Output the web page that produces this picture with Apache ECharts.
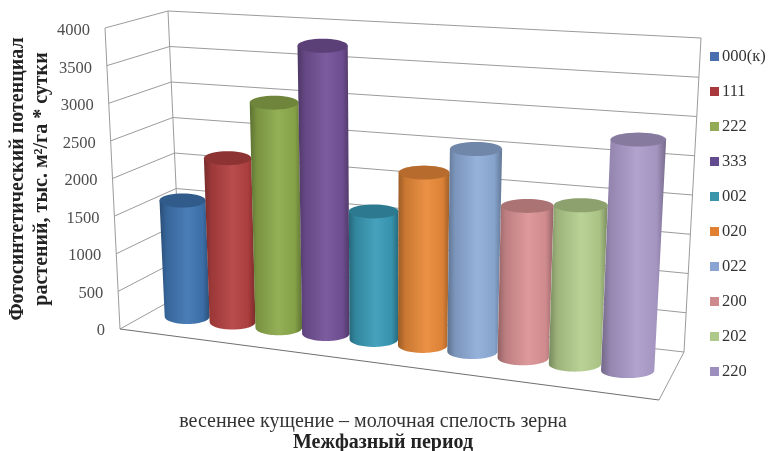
<!DOCTYPE html>
<html>
<head>
<meta charset="utf-8">
<style>html,body{margin:0;padding:0;background:#fff}#chart{width:772px;height:451px}</style>
<script src="https://cdn.jsdelivr.net/npm/echarts@6/dist/echarts.min.js"></script>
</head>
<body>
<div id="chart"></div>
<script>
// Chart data
var categories = ['весеннее кущение – молочная спелость зерна'];
var seriesNames = ['000(к)', '111', '222', '333', '002', '020', '022', '200', '202', '220'];
var seriesValues = [1575, 2205, 3000, 3800, 1675, 2240, 2600, 1930, 2000, 2880];
var seriesColors = ['#3f75b2', '#b54141', '#8dab4c', '#745298', '#3a9cb8', '#ea8a3a', '#8fadd9', '#dc9396', '#b5cf8e', '#ac9ccb'];
var legendColors = ['#4a6fae', '#a9383c', '#93ab55', '#634b8f', '#3a95ab', '#e08030', '#8ba5d2', '#cd8b8e', '#aec98a', '#9d8fbd'];
var yTicks = [0, 500, 1000, 1500, 2000, 2500, 3000, 3500, 4000];
var yMax = 4000;

// Corners of the 3D box on screen: floor and ceiling planes
var floorQuad = { fl: [120, 329], fr: [659, 400], bl: [181, 295], br: [684, 352] };
var ceilQuad = { fl: [105, 28], fr: [677, 67], bl: [168, 11], br: [701, 38] };
var PERSPECTIVE = 0.905;
var SIDE_MARGIN = 0.03;
var CENTER_DEPTH = 0.5;

function mix(a, b, k) { return [a[0] + (b[0] - a[0]) * k, a[1] + (b[1] - a[1]) * k]; }
function onPlane(q, s, t) { return mix(mix(q.fl, q.fr, s), mix(q.bl, q.br, s), t); }

// s: share along the front edge, t: depth, h: share of the axis height
function project(s, t, h) {
  var w = s * PERSPECTIVE / (1 + (PERSPECTIVE - 1) * s);
  return mix(onPlane(floorQuad, w, t), onPlane(ceilQuad, w, t), h);
}

function shade(hex, k) {
  var n = parseInt(hex.slice(1), 16);
  var c = [n >> 16, (n >> 8) & 255, n & 255].map(function (v) {
    return Math.round(k <= 1 ? v * k : v + (255 - v) * (k - 1));
  });
  return 'rgb(' + c.join(',') + ')';
}

function ellipsePoints(cx, cy, rx, ry, from, to) {
  var pts = [];
  for (var i = 0; i <= 40; i++) {
    var a = from + (to - from) * i / 40;
    pts.push([cx + rx * Math.cos(a), cy + ry * Math.sin(a)]);
  }
  return pts;
}

// Walls of the box: one side and one back gridline per tick, edges on the zero tick
function renderFrame(params, api) {
  var rect = params.coordSys;
  var h = (rect.y + rect.height - api.coord([0, api.value(1)])[1]) / rect.height;
  var line = { stroke: '#9b9b9b', lineWidth: 1, fill: null };
  var children = [{
    type: 'polyline',
    shape: { points: [project(0, 0, h), project(0, 1, h), project(1, 1, h)] },
    style: line
  }];
  if (api.value(1) === 0) {
    [[project(0, 0, 0), project(0, 0, 1)],
     [project(0, 1, 0), project(0, 1, 1)],
     [project(1, 1, 0), project(1, 1, 1)],
     [project(1, 1, 0), project(1, 0, 0)]].forEach(function (p) {
      children.push({ type: 'polyline', shape: { points: p }, style: line });
    });
    children.push({
      type: 'polyline',
      shape: { points: [project(0, 0, 0), project(1, 0, 0)] },
      style: { stroke: '#6f6f6f', lineWidth: 1, fill: null }
    });
  }
  return { type: 'group', children: children };
}

// Cylinder for one series inside the single category band
function cylinderRenderer(index, color) {
  return function (params, api) {
    var rect = params.coordSys;
    var top = api.coord([api.value(0), api.value(1)]);
    var band = api.size([1, 0])[0] / seriesNames.length;
    var gx = top[0] + (index - (seriesNames.length - 1) / 2) * band;
    var toS = function (x) { return SIDE_MARGIN + (1 - 2 * SIDE_MARGIN) * (x - rect.x) / rect.width; };
    var h = (rect.y + rect.height - top[1]) / rect.height;
    var sL = toS(gx - band / 2), sR = toS(gx + band / 2);
    var bL = project(sL, CENTER_DEPTH, 0), bR = project(sR, CENTER_DEPTH, 0);
    var tL = project(sL, CENTER_DEPTH, h), tR = project(sR, CENTER_DEPTH, h);
    var bcx = (bL[0] + bR[0]) / 2, bcy = (bL[1] + bR[1]) / 2, brx = (bR[0] - bL[0]) / 2;
    var tcx = (tL[0] + tR[0]) / 2, tcy = (tL[1] + tR[1]) / 2, trx = (tR[0] - tL[0]) / 2;
    var body = [[tcx - trx, tcy]]
      .concat([[tcx + trx, tcy]])
      .concat(ellipsePoints(bcx, bcy, brx, 7.5, 0, Math.PI));
    var grad = {
      type: 'linear', x: 0, y: 0, x2: 1, y2: 0,
      colorStops: [
        { offset: 0, color: shade(color, 0.66) },
        { offset: 0.14, color: shade(color, 0.86) },
        { offset: 0.55, color: shade(color, 1.06) },
        { offset: 0.86, color: shade(color, 0.94) },
        { offset: 1, color: shade(color, 0.68) }
      ]
    };
    return {
      type: 'group',
      children: [
        { type: 'polygon', shape: { points: body }, style: { fill: grad } },
        {
          type: 'polygon',
          shape: { points: ellipsePoints(tcx, tcy, trx, 7, 0, Math.PI * 2) },
          style: { fill: shade(color, 0.78) }
        }
      ]
    };
  };
}

// Tick labels follow the slant of the front wall edge
var tickRich = {};
yTicks.forEach(function (v) {
  tickRich['t' + v] = {
    padding: [4, v / yMax * 15, 0, 0],
    fontFamily: 'Liberation Serif', fontSize: 16.5, color: '#4d4d4d'
  };
});

var series = [{
  type: 'custom',
  name: 'walls',
  silent: true,
  renderItem: renderFrame,
  encode: { x: 0, y: 1 },
  data: yTicks.map(function (v) { return [0, v]; })
}];
seriesNames.forEach(function (name, i) {
  series.push({
    type: 'custom',
    name: name,
    renderItem: cylinderRenderer(i, seriesColors[i]),
    encode: { x: 0, y: 1 },
    itemStyle: { color: legendColors[i] },
    data: [[0, seriesValues[i]]]
  });
});

var chart = echarts.init(document.getElementById('chart'), null, { renderer: 'canvas' });
chart.setOption({
  animation: false,
  backgroundColor: '#fff',
  grid: { left: 110, top: 29, width: 526, height: 300, outerBoundsMode: 'none' },
  xAxis: {
    type: 'category',
    data: categories,
    axisLine: { show: false },
    axisTick: { show: false },
    axisLabel: { margin: 83, fontFamily: 'Liberation Serif', fontSize: 20, color: '#333' },
    name: 'Межфазный период',
    nameLocation: 'middle',
    nameGap: 104,
    nameMoveOverlap: false,
    nameTextStyle: { fontFamily: 'Liberation Serif', fontSize: 20, fontWeight: 'bold', color: '#222', padding: [0, 0, 0, 20] }
  },
  yAxis: {
    type: 'value',
    min: 0,
    max: yMax,
    interval: 500,
    axisLine: { show: false },
    axisTick: { show: false },
    splitLine: { show: false },
    axisLabel: {
      margin: 5,
      formatter: function (v) { return '{t' + v + '|' + v + '}'; },
      rich: tickRich
    },
    name: 'Фотосинтетический потенциал\nрастений, тыс. м²/га * сутки',
    nameLocation: 'middle',
    nameRotate: 90,
    nameGap: 56,
    nameMoveOverlap: false,
    nameTextStyle: { fontFamily: 'Liberation Serif', fontSize: 20, fontWeight: 'bold', color: '#222', lineHeight: 24 }
  },
  legend: {
    orient: 'vertical',
    left: 710,
    top: 48,
    padding: 0,
    data: seriesNames,
    icon: 'rect',
    itemWidth: 9,
    itemHeight: 9,
    itemGap: 18,
    textStyle: { fontFamily: 'Liberation Serif', fontSize: 16.5, color: '#333', lineHeight: 17, padding: [0, 0, 0, -2] }
  },
  series: series
});
</script>
</body>
</html>
